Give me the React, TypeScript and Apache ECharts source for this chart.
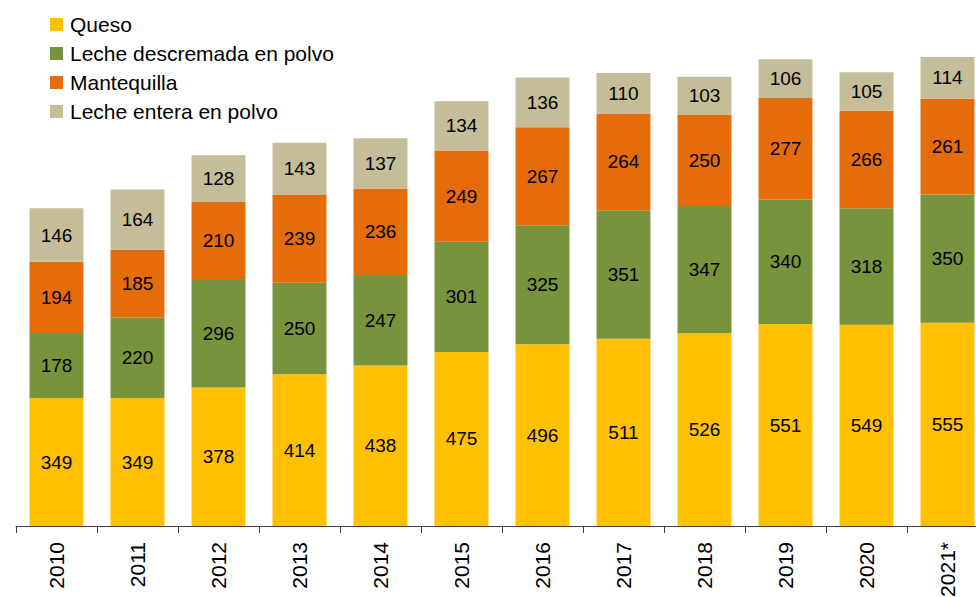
import React, { useEffect, useRef } from "react";
import * as echarts from "echarts";

const years = ["2010", "2011", "2012", "2013", "2014", "2015", "2016", "2017", "2018", "2019", "2020", "2021*"];
const queso = [349, 349, 378, 414, 438, 475, 496, 511, 526, 551, 549, 555];
const lecheDescremada = [178, 220, 296, 250, 247, 301, 325, 351, 347, 340, 318, 350];
const mantequilla = [194, 185, 210, 239, 236, 249, 267, 264, 250, 277, 266, 261];
const lecheEntera = [146, 164, 128, 143, 137, 134, 136, 110, 103, 106, 105, 114];

const seriesNames = ["Queso", "Leche descremada en polvo", "Mantequilla", "Leche entera en polvo"];
const seriesColors = ["#FFC000", "#77933C", "#E46C0A", "#C4BD97"];
const seriesData = [queso, lecheDescremada, mantequilla, lecheEntera];

const FONT = "'Liberation Sans', Arial, sans-serif";

export default function App() {
  const ref = useRef<HTMLDivElement>(null);
  useEffect(() => {
    if (!ref.current) return;
    const chart = echarts.init(ref.current, null, { renderer: "svg" });
    chart.setOption({
      animation: false,
      backgroundColor: "#ffffff",
      legend: {
        orient: "vertical",
        left: 50,
        top: 14,
        padding: 0,
        itemWidth: 13,
        itemHeight: 13,
        itemGap: 8,
        icon: "rect",
        textStyle: { fontFamily: FONT, fontSize: 21, color: "#000", padding: [0, 0, 0, 2] },
        data: seriesNames,
      },
      grid: {
        left: 16,
        width: 972,
        top: 13,
        height: 513,
        containLabel: false,
        outerBoundsMode: "none",
      },
      xAxis: {
        type: "category",
        data: years,
        axisLine: { lineStyle: { color: "#404040", width: 1 } },
        axisTick: { show: true, length: 7, lineStyle: { color: "#404040" } },
        axisLabel: { rotate: 90, margin: 16, fontFamily: FONT, fontSize: 21, color: "#000" },
      },
      yAxis: {
        type: "value",
        min: 0,
        max: 1400,
        show: false,
        splitLine: { show: false },
      },
      series: seriesData.map((d, i) => ({
        name: seriesNames[i],
        type: "bar",
        stack: "total",
        data: d,
        barWidth: "66.6%",
        itemStyle: { color: seriesColors[i] },
        label: {
          show: true,
          position: "inside",
          fontFamily: FONT,
          fontSize: 19,
          color: "#000",
        },
      })),
    });
    return () => chart.dispose();
  }, []);
  return <div ref={ref} style={{ width: 976, height: 597, position: "absolute", left: 0, top: 0 }} />;
}
